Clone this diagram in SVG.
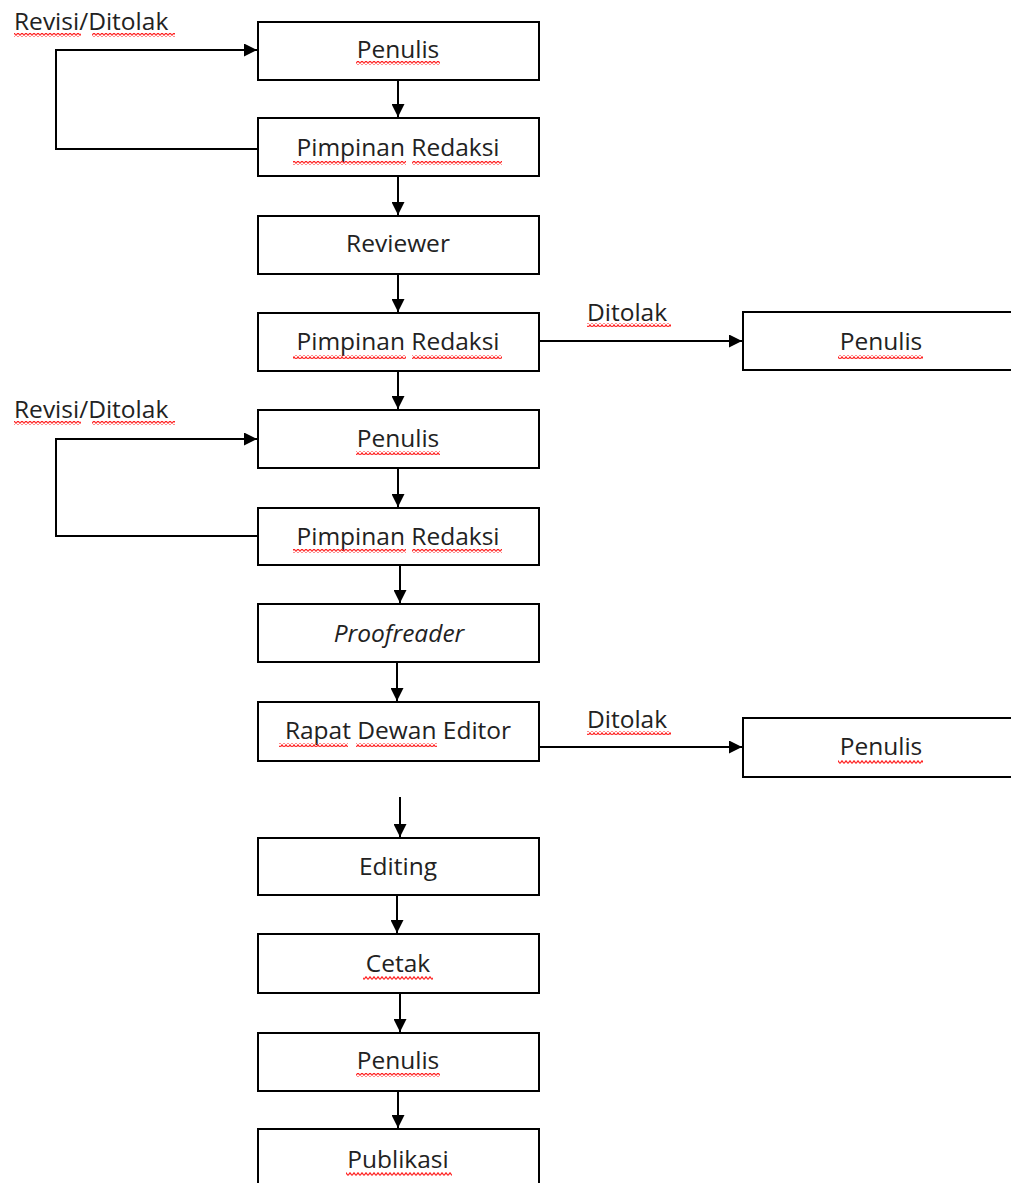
<svg xmlns="http://www.w3.org/2000/svg" width="1011" height="1183" viewBox="0 0 1011 1183">
  <style>
    .box { fill: #fff; stroke: #000; stroke-width: 2; }
    .lbl { font-family: "Open Sans", "Liberation Sans", sans-serif; font-size: 24.5px; fill: #222; text-anchor: middle; }
    .side { font-family: "Open Sans", "Liberation Sans", sans-serif; font-size: 24.5px; fill: #222; }
    .conn { fill: none; stroke: #000; stroke-width: 2; }
    .sq { fill: url(#wave); }
  </style>
  <defs>
    <marker id="arr" markerUnits="userSpaceOnUse" markerWidth="13" markerHeight="13" refX="13" refY="6.5" orient="auto">
      <path d="M0,0 L13,6.5 L0,13 z" fill="#000"/>
    </marker>
    <pattern id="wave" patternUnits="userSpaceOnUse" width="4" height="4">
      <polyline points="0,3.5 2,0.8 4,3.5" fill="none" stroke="#f22" stroke-width="1.2"/>
    </pattern>
  </defs>
  <rect width="1011" height="1183" fill="#fff"/>

  <g id="connectors">
    <path class="conn" d="M398,80 V117" marker-end="url(#arr)"/>
    <path class="conn" d="M398,176 V215" marker-end="url(#arr)"/>
    <path class="conn" d="M398,274 V312" marker-end="url(#arr)"/>
    <path class="conn" d="M398,371 V409" marker-end="url(#arr)"/>
    <path class="conn" d="M398,468 V507" marker-end="url(#arr)"/>
    <path class="conn" d="M400,565 V603" marker-end="url(#arr)"/>
    <path class="conn" d="M397,662 V701" marker-end="url(#arr)"/>
    <path class="conn" d="M400,797 V837" marker-end="url(#arr)"/>
    <path class="conn" d="M397,895 V933" marker-end="url(#arr)"/>
    <path class="conn" d="M400,993 V1032" marker-end="url(#arr)"/>
    <path class="conn" d="M398,1091 V1128" marker-end="url(#arr)"/>
    <path class="conn" d="M258,149 H56 V50 H257" marker-end="url(#arr)"/>
    <path class="conn" d="M258,536 H56 V439 H257" marker-end="url(#arr)"/>
    <path class="conn" d="M539,341 H742" marker-end="url(#arr)"/>
    <path class="conn" d="M539,747 H742" marker-end="url(#arr)"/>
    <text class="side" x="14" y="30">Revisi/Ditolak</text>
    <rect class="sq" x="14" y="33" width="67" height="4"/>
    <rect class="sq" x="92" y="33" width="83" height="4"/>
    <text class="side" x="14" y="418">Revisi/Ditolak</text>
    <rect class="sq" x="14" y="421" width="67" height="4"/>
    <rect class="sq" x="92" y="421" width="83" height="4"/>
    <text class="side" x="587" y="321">Ditolak</text>
    <rect class="sq" x="587" y="323" width="84" height="4"/>
    <text class="side" x="587" y="728">Ditolak</text>
    <rect class="sq" x="587" y="731" width="84" height="4"/>
  </g>

  <g id="n1">
    <rect class="box" x="258" y="22" width="281" height="58"/>
    <text class="lbl" x="398" y="58">Penulis</text>
    <rect class="sq" x="356" y="61" width="84" height="4"/>
  </g>
  <g id="n2">
    <rect class="box" x="258" y="118" width="281" height="58"/>
    <text class="lbl" x="398" y="156">Pimpinan Redaksi</text>
    <rect class="sq" x="293" y="161" width="113" height="4"/>
    <rect class="sq" x="412" y="161" width="90" height="4"/>
  </g>
  <g id="n3">
    <rect class="box" x="258" y="216" width="281" height="58"/>
    <text class="lbl" x="398" y="252">Reviewer</text>
  </g>
  <g id="n4">
    <rect class="box" x="258" y="313" width="281" height="58"/>
    <text class="lbl" x="398" y="350">Pimpinan Redaksi</text>
    <rect class="sq" x="293" y="355" width="113" height="4"/>
    <rect class="sq" x="412" y="355" width="90" height="4"/>
  </g>
  <g id="n5">
    <rect class="box" x="743" y="312" width="281" height="58"/>
    <text class="lbl" x="881" y="350">Penulis</text>
    <rect class="sq" x="838" y="355" width="85" height="4"/>
  </g>
  <g id="n6">
    <rect class="box" x="258" y="410" width="281" height="58"/>
    <text class="lbl" x="398" y="447">Penulis</text>
    <rect class="sq" x="356" y="451" width="84" height="4"/>
  </g>
  <g id="n7">
    <rect class="box" x="258" y="508" width="281" height="57"/>
    <text class="lbl" x="398" y="545">Pimpinan Redaksi</text>
    <rect class="sq" x="293" y="549" width="113" height="4"/>
    <rect class="sq" x="412" y="549" width="90" height="4"/>
  </g>
  <g id="n8">
    <rect class="box" x="258" y="604" width="281" height="58"/>
    <text class="lbl" x="399" y="642" font-style="italic">Proofreader</text>
  </g>
  <g id="n9">
    <rect class="box" x="258" y="702" width="281" height="59"/>
    <text class="lbl" x="398" y="739">Rapat Dewan Editor</text>
    <rect class="sq" x="279" y="743" width="69" height="4"/>
    <rect class="sq" x="356" y="743" width="81" height="4"/>
  </g>
  <g id="n10">
    <rect class="box" x="743" y="718" width="281" height="59"/>
    <text class="lbl" x="881" y="755">Penulis</text>
    <rect class="sq" x="838" y="760" width="85" height="4"/>
  </g>
  <g id="n11">
    <rect class="box" x="258" y="838" width="281" height="57"/>
    <text class="lbl" x="398" y="875">Editing</text>
  </g>
  <g id="n12">
    <rect class="box" x="258" y="934" width="281" height="59"/>
    <text class="lbl" x="398" y="972">Cetak</text>
    <rect class="sq" x="363" y="976" width="70" height="4"/>
  </g>
  <g id="n13">
    <rect class="box" x="258" y="1033" width="281" height="58"/>
    <text class="lbl" x="398" y="1069">Penulis</text>
    <rect class="sq" x="356" y="1073" width="84" height="4"/>
  </g>
  <g id="n14">
    <rect class="box" x="258" y="1129" width="281" height="70"/>
    <text class="lbl" x="398" y="1168">Publikasi</text>
    <rect class="sq" x="346" y="1172" width="106" height="4"/>
  </g>
</svg>
